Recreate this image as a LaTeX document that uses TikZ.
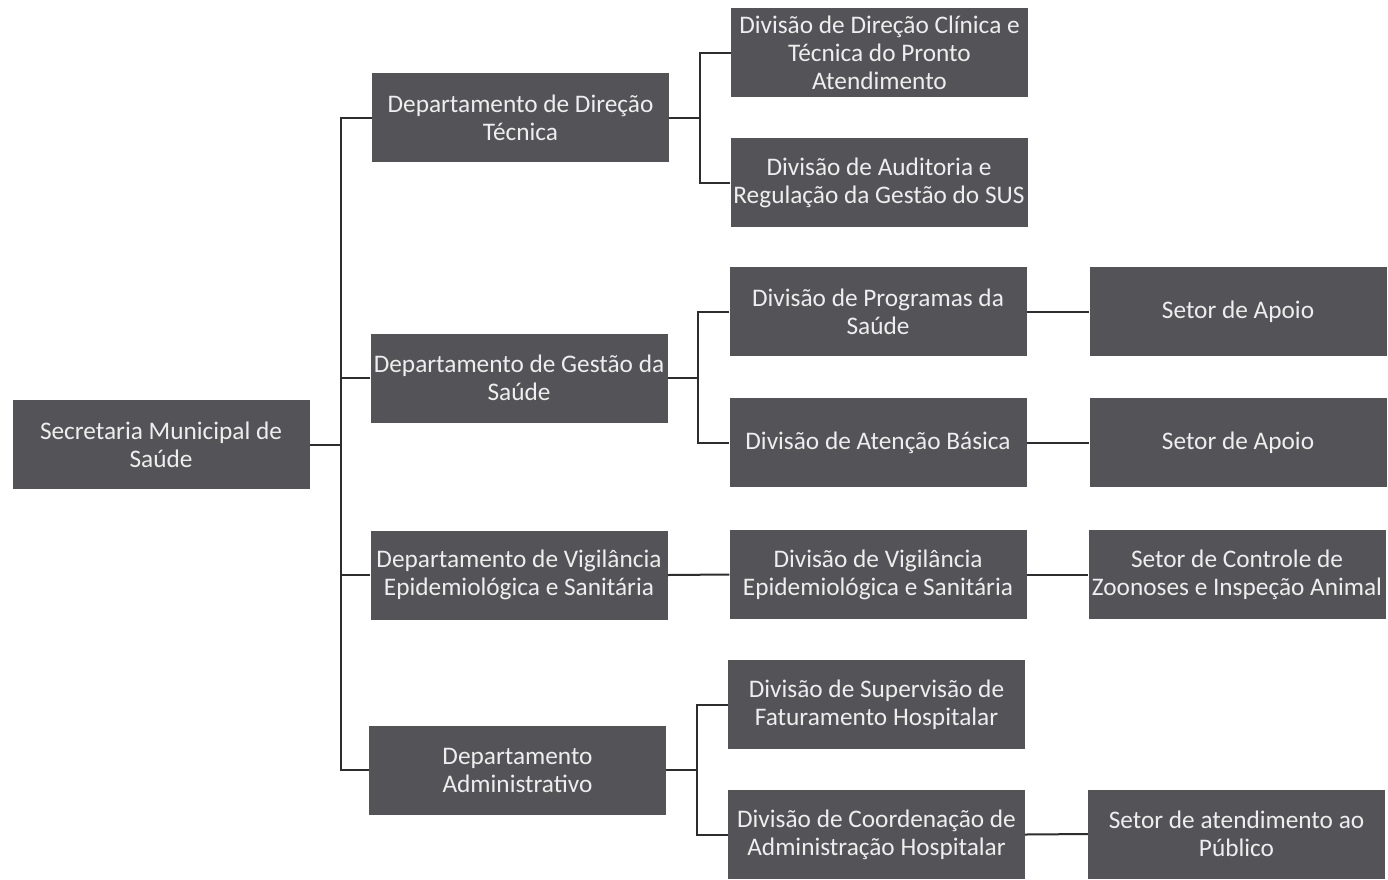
\documentclass[tikz,border=0pt]{standalone}
\usepackage{fontspec}
\setmainfont{Carlito}
\definecolor{boxgray}{RGB}{84,84,88}
\definecolor{linegray}{RGB}{45,45,48}
\definecolor{txt}{RGB}{238,238,238}
\begin{document}
\begin{tikzpicture}[x=1pt,y=-1pt,
  box/.style={fill=boxgray, text=txt, minimum width=297pt, minimum height=89pt,
    inner sep=0pt, align=center, font=\fontsize{25.3}{28}\selectfont},
  conn/.style={draw=linegray, line width=2pt}]
\useasboundingbox[fill=white] (0,0) rectangle (1388,879);
% level 0
\node[box] (sec) at (161,444.5) {Secretaria Municipal de\\Saúde};
% departments
\node[box] (d1) at (520.5,117.5) {Departamento de Direção\\Técnica};
\node[box] (d2) at (519,378) {Departamento de Gestão da\\Saúde};
\node[box] (d3) at (519,575) {Departamento de Vigilância\\Epidemiológica e Sanitária};
\node[box] (d4) at (517.5,770) {Departamento\\Administrativo};
% divisions
\node[box] (v1) at (879.5,52.5) {Divisão de Direção Clínica e\\Técnica do Pronto\\Atendimento};
\node[box] (v2) at (879,182.5) {Divisão de Auditoria e\\Regulação da Gestão do SUS};
\node[box] (v3) at (878,311.5) {Divisão de Programas da\\Saúde};
\node[box] (v4) at (878,442.5) {Divisão de Atenção Básica};
\node[box] (v5) at (878,574.5) {Divisão de Vigilância\\Epidemiológica e Sanitária};
\node[box] (v6) at (876.5,704.5) {Divisão de Supervisão de\\Faturamento Hospitalar};
\node[box] (v7) at (876.5,834.5) {Divisão de Coordenação de\\Administração Hospitalar};
% sectors
\node[box] (s1) at (1238,311.5) {Setor de Apoio};
\node[box] (s2) at (1238,442.5) {Setor de Apoio};
\node[box] (s3) at (1237,574.5) {Setor de Controle de\\Zoonoses e Inspeção Animal};
\node[box] (s4) at (1236.5,834) {Setor de atendimento ao\\Público};
% bus coordinates
\coordinate (b0) at (341,444.5);
\coordinate (b1) at (700,117.5);
\coordinate (b2) at (698,378);
\coordinate (b4) at (697,770);
% connectors
\draw[conn] (sec.east) -- (b0);
\foreach \d in {d1,d2,d3,d4} \draw[conn] (\d.west) -| (b0);
\draw[conn] (d1.east) -- (b1);
\foreach \v in {v1,v2} \draw[conn] (\v.west) -| (b1);
\draw[conn] (d2.east) -- (b2);
\foreach \v in {v3,v4} \draw[conn] (\v.west) -| (b2);
\draw[conn] (d3.east) -- (v5.west);
\draw[conn] (d4.east) -- (b4);
\foreach \v in {v6,v7} \draw[conn] (\v.west) -| (b4);
\draw[conn] (v3.east) -- (s1.west);
\draw[conn] (v4.east) -- (s2.west);
\draw[conn] (v5.east) -- (s3.west);
\draw[conn] (v7.east) -- (s4.west);
\end{tikzpicture}
\end{document}
